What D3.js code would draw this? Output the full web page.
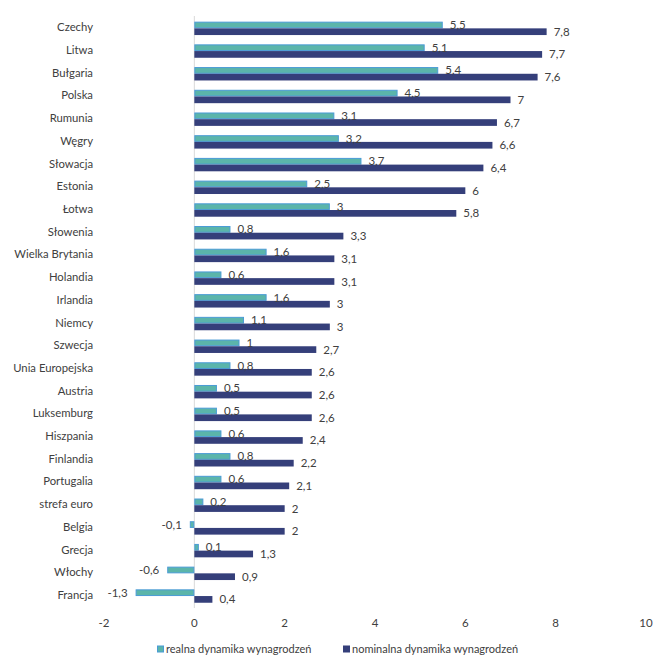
<!DOCTYPE html>
<html>
<head>
<meta charset="utf-8">
<script src="https://cdn.jsdelivr.net/npm/d3@7"></script>
<style>
    body { margin: 0; background: #fff; }
    svg text { font-family: Lato, "Open Sans", sans-serif; fill: #404040; }
</style>
</head>
<body>
<svg></svg>
<script>
const categories = ["Czechy", "Litwa", "Bułgaria", "Polska", "Rumunia", "Węgry", "Słowacja", "Estonia",
    "Łotwa", "Słowenia", "Wielka Brytania", "Holandia", "Irlandia", "Niemcy", "Szwecja", "Unia Europejska",
    "Austria", "Luksemburg", "Hiszpania", "Finlandia", "Portugalia", "strefa euro", "Belgia", "Grecja",
    "Włochy", "Francja"]

const realValues = [5.5, 5.1, 5.4, 4.5, 3.1, 3.2, 3.7, 2.5, 3, 0.8, 1.6, 0.6, 1.6, 1.1, 1, 0.8,
    0.5, 0.5, 0.6, 0.8, 0.6, 0.2, -0.1, 0.1, -0.6, -1.3]

const nominalValues = [7.8, 7.7, 7.6, 7, 6.7, 6.6, 6.4, 6, 5.8, 3.3, 3.1, 3.1, 3, 3, 2.7, 2.6,
    2.6, 2.6, 2.4, 2.2, 2.1, 2, 2, 1.3, 0.9, 0.4]

const seriesNames = ["realna dynamika wynagrodzeń", "nominalna dynamika wynagrodzeń"]
const xTicks = [-2, 0, 2, 4, 6, 8, 10]

// ------------------- SVG ----------------------
const svgW = 666, svgH = 668;

const svg = d3.select("svg")
    .attr("width", svgW)
    .attr("height", svgH)
;

const xScale = d3.scaleLinear()
    .domain([-2, 10])
    .range([104, 646])
;

const yScale = d3.scaleBand()
    .domain(categories)
    .range([17, 607.4])
    .paddingInner(0.41)
    .paddingOuter(0.205)
;

const ySubScale = d3.scaleBand()
    .domain([0, 1])
    .range([0, yScale.bandwidth()])
;

const fills = ["#5bb5aa", "#353f7a"]
const strokes = ["#4a9bd6", "#353f7a"]
const fmt = v => String(v).replace(".", ",")

// pionowa oś w zerze
svg.append("line")
    .attr("x1", xScale(0)).attr("x2", xScale(0))
    .attr("y1", 16).attr("y2", 608)
    .attr("stroke", "#d9d9d9")
    .attr("stroke-width", 1)
;

// ----- etykiety osi x -----
svg.append("g")
    .selectAll("text")
    .data(xTicks)
    .enter()
    .append("text")
    .attr("x", d => xScale(d))
    .attr("y", 623)
    .attr("dy", "0.35em")
    .attr("text-anchor", "middle")
    .attr("font-size", 11.5)
    .attr("fill", "#595959")
    .text(d => d)
;

// ----- kategorie -----
svg.append("g")
    .selectAll("text")
    .data(categories)
    .enter()
    .append("text")
    .attr("x", 93)
    .attr("y", d => yScale(d) + yScale.bandwidth() / 2 - 1)
    .attr("dy", "0.35em")
    .attr("text-anchor", "end")
    .attr("font-size", 11.3)
    .text(d => d)
;

const rows = categories.map((c, i) => ({ cat: c, vals: [realValues[i], nominalValues[i]] }))

const groups = svg.append("g")
    .selectAll("g")
    .data(rows)
    .enter()
    .append("g")
    .attr("transform", d => `translate(0, ${yScale(d.cat)})`)
;

groups.selectAll("rect")
    .data(d => d.vals.map((v, s) => ({ v: v, s: s })))
    .enter()
    .append("rect")
    .attr("x", d => xScale(Math.min(0, d.v)) + (d.s == 0 ? 0.5 : 0))
    .attr("y", d => ySubScale(d.s) + (d.s == 0 ? 0.5 : 0))
    .attr("width", d => Math.max(0, Math.abs(xScale(d.v) - xScale(0)) - (d.s == 0 ? 1 : 0)))
    .attr("height", d => ySubScale.bandwidth() - (d.s == 0 ? 1 : 0))
    .attr("fill", d => fills[d.s])
    .attr("stroke", d => d.s == 0 ? strokes[0] : "none")
    .attr("stroke-width", 1)
;

groups.selectAll("text")
    .data(d => d.vals.map((v, s) => ({ v: v, s: s })))
    .enter()
    .append("text")
    .attr("x", d => d.v < 0 ? xScale(d.v) - 8 : xScale(d.v) + 7)
    .attr("y", d => ySubScale(d.s) + ySubScale.bandwidth() / 2)
    .attr("dy", "0.35em")
    .attr("text-anchor", d => d.v < 0 ? "end" : "start")
    .attr("font-size", 11.5)
    .text(d => fmt(d.v))
;

// ----- legenda -----
const legendX = [157, 343]
const legend = svg.append("g")
    .selectAll("g")
    .data(seriesNames)
    .enter()
    .append("g")
    .attr("transform", (d, i) => `translate(${legendX[i]}, 649)`)
;

legend.append("rect")
    .attr("x", 0.5).attr("y", -3)
    .attr("width", 6).attr("height", 6)
    .attr("fill", (d, i) => fills[i])
    .attr("stroke", (d, i) => strokes[i])
;

legend.append("text")
    .attr("x", 9)
    .attr("dy", "0.35em")
    .attr("font-size", 11)
    .text(d => d)
;
</script>
</body>
</html>
